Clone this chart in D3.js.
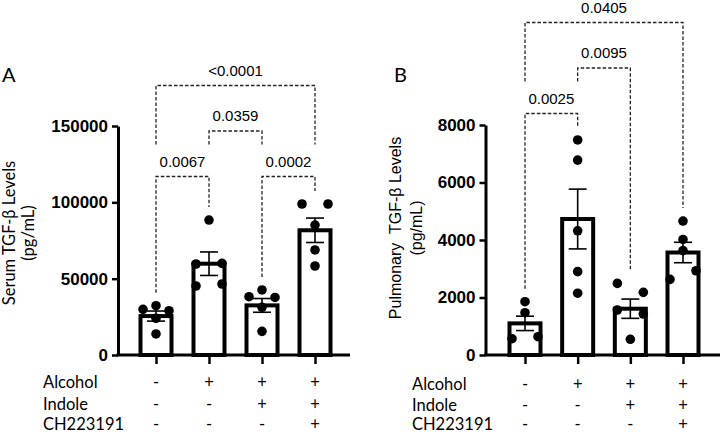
<!DOCTYPE html>
<html>
<head>
<meta charset="utf-8">
<script src="https://cdn.jsdelivr.net/npm/d3@7"></script>
<style>
  html, body { margin: 0; padding: 0; background: #fff; }
  svg { display: block; }
</style>
</head>
<body>
<svg id="chart" width="720" height="434"></svg>
<script>
// ---------------- DATA ----------------
const groups = ["ctrl", "alc", "alcInd", "alcIndCH"];
const rowLabels = ["Alcohol", "Indole", "CH223191"];
const alcoholSigns = ["-", "+", "+", "+"];
const indoleSigns = ["-", "-", "+", "+"];
const ch223191Signs = ["-", "-", "-", "+"];

// Panel A: serum TGF-β (pg/mL)
const serumTicks = [0, 50000, 100000, 150000];
const serumMeans = [25500, 59800, 32500, 81700];
const serumSEM = [3300, 7700, 4500, 8000];
const serumPoints = [
  [29900, 32300, 29000, 24000, 13800],
  [59600, 60000, 45200, 46500, 88400],
  [38200, 42600, 37700, 31200, 15500],
  [98900, 98900, 85100, 68800, 58300]
];
const serumComparisons = [
  { a: 0, b: 1, label: "0.0067", level: 0 },
  { a: 2, b: 3, label: "0.0002", level: 0 },
  { a: 1, b: 2, label: "0.0359", level: 1 },
  { a: 0, b: 3, label: "<0.0001", level: 2 }
];

// Panel B: pulmonary TGF-β (pg/mL)
const lungTicks = [0, 2000, 4000, 6000, 8000];
const lungMeans = [1100, 4730, 1610, 3565];
const lungSEM = [250, 1040, 335, 355];
const lungPoints = [
  [567, 637, 1472, 1854],
  [7480, 6780, 4320, 2900, 2150],
  [2490, 2180, 1565, 1426, 546],
  [4660, 4020, 3630, 2630, 2930]
];
const lungComparisons = [
  { a: 0, b: 1, label: "0.0025", level: 0 },
  { a: 1, b: 2, label: "0.0095", level: 1 },
  { a: 0, b: 3, label: "0.0405", level: 2 }
];

// ---------------- DRAWING ----------------
const svg = d3.select("#chart");
const ARIAL = "'Liberation Sans', Arial, Helvetica, sans-serif";
const LATO = "Lato, 'Open Sans', sans-serif";

function drawPanel(cfg) {
  const g = svg.append("g");
  const x = d3.scalePoint().domain(groups).range(cfg.xRange);
  const y = d3.scaleLinear().domain([0, cfg.yMax]).range([cfg.yBottom, cfg.yTop]);

  // bars
  g.selectAll("rect.bar").data(groups).join("rect")
    .attr("class", "bar")
    .attr("x", d => x(d) - 15.5)
    .attr("width", 31)
    .attr("y", (d, i) => y(cfg.means[i]))
    .attr("height", (d, i) => y(0) - y(cfg.means[i]))
    .attr("fill", "#fff").attr("stroke", "#000").attr("stroke-width", 4);

  // points (simple row-based swarm)
  const step = 13, thr = 10;
  const pts = [];
  cfg.points.forEach((vals, gi) => {
    const items = vals.map((v, k) => ({ v, k, gi })).sort((p, q) => q.v - p.v);
    let rows = [];
    items.forEach(it => {
      const last = rows[rows.length - 1];
      if (last && Math.abs(y(it.v) - y(last[0].v)) < thr) last.push(it);
      else rows.push([it]);
    });
    rows.forEach(r => {
      r.sort((p, q) => p.k - q.k);
      const n = r.length;
      r.forEach((it, j) => {
        let off;
        if (n === 1) off = 0;
        else if (n === 2) off = j === 0 ? -step : step;
        else off = (j - (n - 1) / 2) * step;
        pts.push({ cx: x(groups[gi]) + off, cy: y(it.v) });
      });
    });
  });
  g.selectAll("circle.pt").data(pts).join("circle")
    .attr("class", "pt")
    .attr("cx", d => d.cx).attr("cy", d => d.cy).attr("r", 4.8)
    .attr("fill", "#000");

  // error bars (mean ± SEM)
  groups.forEach((gname, i) => {
    const cx = x(gname);
    const lo = y(cfg.means[i] - cfg.sem[i]), hi = y(cfg.means[i] + cfg.sem[i]);
    g.append("line").attr("x1", cx).attr("x2", cx).attr("y1", lo).attr("y2", hi)
      .attr("stroke", "#000").attr("stroke-width", 1.6);
    [lo, hi].forEach(yy => g.append("line")
      .attr("x1", cx - 9).attr("x2", cx + 9).attr("y1", yy).attr("y2", yy)
      .attr("stroke", "#000").attr("stroke-width", 1.6));
  });

  // y axis
  const yAxis = d3.axisLeft(y).tickValues(cfg.ticks).tickSize(6).tickSizeOuter(0).tickPadding(4)
    .tickFormat(d3.format("d"));
  const ya = g.append("g").attr("transform", `translate(${cfg.axisX},0)`).call(yAxis);
  ya.select(".domain").attr("stroke", "#000").attr("stroke-width", 3);
  ya.selectAll(".tick line").attr("stroke", "#000").attr("stroke-width", 2.5);
  ya.selectAll(".tick text").attr("font-family", ARIAL).attr("font-weight", "bold")
    .attr("font-size", 17).attr("fill", "#000");

  // x axis
  g.append("line").attr("x1", cfg.axisX - 1.5).attr("x2", cfg.xAxisEnd)
    .attr("y1", y(0)).attr("y2", y(0)).attr("stroke", "#000").attr("stroke-width", 3);
  const xAxis = d3.axisBottom(x).tickSize(9).tickSizeOuter(0).tickFormat("");
  const xa = g.append("g").attr("transform", `translate(0,${y(0)})`).call(xAxis);
  xa.select(".domain").remove();
  xa.selectAll(".tick line").attr("stroke", "#000").attr("stroke-width", 2.5);

  // y title
  const tg = g.append("g").attr("transform", `translate(0,${cfg.titleY}) rotate(-90)`);
  cfg.titleLines.forEach((t, i) => {
    tg.append("text").attr("x", 0).attr("y", cfg.titleX[i])
      .attr("text-anchor", "middle").attr("font-family", cfg.titleFont)
      .attr("font-size", cfg.titleSize).attr("fill", "#000")
      .style("white-space", "pre").text(t);
  });

  // panel letter
  g.append("text").attr("x", cfg.letterX).attr("y", 82)
    .attr("font-family", LATO).attr("font-size", 20).attr("fill", "#000").text(cfg.letter);

  // treatment table
  const signRows = [alcoholSigns, indoleSigns, ch223191Signs];
  rowLabels.forEach((lab, r) => {
    g.append("text").attr("x", cfg.rowLabelX).attr("y", cfg.rowY[r])
      .attr("font-family", LATO).attr("font-size", 16.5).attr("fill", "#000").text(lab);
    groups.forEach((gname, i) => {
      g.append("text").attr("x", x(gname)).attr("y", cfg.rowY[r])
        .attr("text-anchor", "middle").attr("font-family", LATO).attr("font-size", 16.5)
        .attr("fill", "#000").text(signRows[r][i]);
    });
  });

  // significance brackets
  const lvlStep = 45.5;
  const hY = lvl => cfg.bracketBase - lvl * lvlStep;
  const topOf = gi => y(d3.max(cfg.points[gi]));
  cfg.comps.forEach(c => {
    const yy = hY(c.level);
    const legEnd = gi => {
      const lower = cfg.comps.some(o => o.level < c.level && (o.a === gi || o.b === gi));
      return lower ? cfg.bracketBase - 32 : topOf(gi) - 13;
    };
    const xa0 = x(groups[c.a]), xb0 = x(groups[c.b]);
    g.append("path")
      .attr("d", `M${xa0},${legEnd(c.a)}V${yy}H${xb0}V${legEnd(c.b)}`)
      .attr("fill", "none").attr("stroke", "#222").attr("stroke-width", 1.3)
      .attr("stroke-dasharray", "3.5,2");
    g.append("text").attr("x", (xa0 + xb0) / 2).attr("y", yy - 10)
      .attr("text-anchor", "middle").attr("font-family", ARIAL).attr("font-size", 15)
      .attr("fill", "#000").text(c.label);
  });
}

drawPanel({
  letter: "A", letterX: 2,
  xRange: [156, 315], axisX: 118, xAxisEnd: 350,
  yMax: 150000, yBottom: 355, yTop: 126, ticks: serumTicks,
  means: serumMeans, sem: serumSEM, points: serumPoints, comps: serumComparisons,
  bracketBase: 176.5,
  titleLines: ["Serum TGF-β Levels", "(pg/mL)"], titleX: [15, 33.5], titleY: 233,
  titleFont: LATO, titleSize: 16.5,
  rowLabelX: 43, rowY: [388, 409.5, 430]
});

drawPanel({
  letter: "B", letterX: 394,
  xRange: [525, 683], axisX: 485.5, xAxisEnd: 720,
  yMax: 8000, yBottom: 355, yTop: 125, ticks: lungTicks,
  means: lungMeans, sem: lungSEM, points: lungPoints, comps: lungComparisons,
  bracketBase: 113.5,
  titleLines: ["Pulmonary  TGF-β Levels", "(pg/mL)"], titleX: [400.5, 421.5], titleY: 228,
  titleFont: ARIAL, titleSize: 16,
  rowLabelX: 412, rowY: [390, 411, 430]
});
</script>
</body>
</html>
